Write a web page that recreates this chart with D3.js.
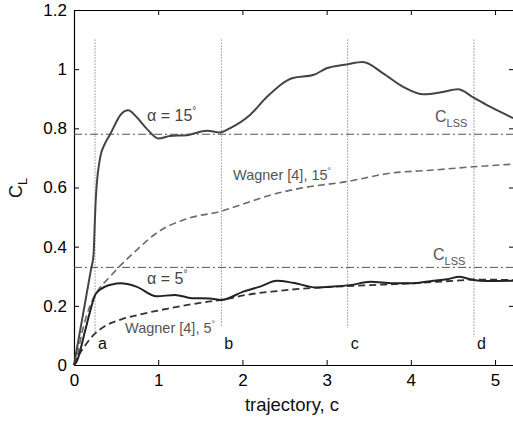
<!DOCTYPE html>
<html>
  <head>
    <meta charset="utf-8" />
    <title>Lift coefficient vs trajectory</title>
    <script src="https://d3js.org/d3.v7.min.js"></script>
    <style>
        body{
            margin: 0;
            background: #fff;
        }
        text{
            font-family: "Liberation Sans", Arial, sans-serif;
        }
    </style>
  </head>
  <body>
    <svg id="vis" width="513" height="423"></svg>

    <script>
        // alpha = 15 deg, computed
        var c15 = [0, 0.06, 0.13, 0.2, 0.232, 0.243, 0.255, 0.27, 0.31, 0.37, 0.43, 0.5, 0.55, 0.645, 0.74, 0.86, 1.0, 1.14, 1.34, 1.58, 1.73, 1.85, 2.09, 2.29, 2.6, 2.84, 3.0, 3.24, 3.43, 3.67, 3.91, 4.15, 4.38, 4.56, 4.74, 4.94, 5.22];
        var cl15 = [0, 0.096, 0.208, 0.32, 0.372, 0.45, 0.54, 0.61, 0.70, 0.75, 0.78, 0.82, 0.845, 0.861, 0.839, 0.80, 0.766, 0.774, 0.777, 0.792, 0.786, 0.80, 0.845, 0.906, 0.97, 0.98, 1.003, 1.016, 1.024, 0.986, 0.94, 0.915, 0.923, 0.932, 0.905, 0.873, 0.834];

        // Wagner [4], 15 deg
        var cw15 = [0, 0.02, 0.095, 0.19, 0.29, 0.41, 0.53, 0.73, 1.0, 1.34, 1.75, 2.09, 2.33, 2.68, 3.24, 3.75, 4.27, 4.74, 5.22];
        var clw15 = [0, 0.011, 0.11, 0.2, 0.255, 0.293, 0.33, 0.385, 0.45, 0.494, 0.52, 0.552, 0.574, 0.597, 0.62, 0.648, 0.659, 0.67, 0.679];

        // alpha = 5 deg, computed
        var c5 = [0, 0.03, 0.13, 0.19, 0.25, 0.31, 0.37, 0.45, 0.55, 0.74, 0.98, 1.2, 1.4, 1.61, 1.75, 2.01, 2.21, 2.41, 2.6, 2.88, 3.08, 3.28, 3.52, 3.79, 4.0, 4.27, 4.43, 4.58, 4.74, 4.9, 5.22];
        var cl5 = [0, 0.011, 0.113, 0.18, 0.236, 0.255, 0.265, 0.272, 0.276, 0.265, 0.232, 0.237, 0.226, 0.225, 0.22, 0.248, 0.265, 0.285, 0.278, 0.262, 0.265, 0.27, 0.281, 0.276, 0.276, 0.285, 0.29, 0.298, 0.287, 0.284, 0.285];

        // Wagner [4], 5 deg
        var cw5 = [0, 0.05, 0.13, 0.23, 0.37, 0.57, 0.77, 1.14, 1.54, 1.85, 2.01, 2.41, 2.8, 3.2, 3.52, 4.0, 4.58, 4.74, 5.22];
        var clw5 = [0, 0.03, 0.065, 0.101, 0.132, 0.155, 0.17, 0.192, 0.212, 0.225, 0.235, 0.25, 0.26, 0.266, 0.27, 0.276, 0.286, 0.289, 0.287];

        // steady state levels and marker positions
        var clss = [0.78, 0.33];
        var markX = [0.25, 1.75, 3.25, 4.75];
        var markLo = [0.108, 0.128, 0.125, 0.095];
        var markHi = 1.1;
        var markNames = ["a", "b", "c", "d"];

        var xTicks = [0, 1, 2, 3, 4, 5];
        var yTicks = [0, 0.2, 0.4, 0.6, 0.8, 1, 1.2];

        var svg = d3.select("#vis");

        var x = d3.scaleLinear().domain([0, 5.225]).range([74, 514]);
        var y = d3.scaleLinear().domain([0, 1.2]).range([365, 10]);

        function pairs(xs, ys) {
            return xs.map(function(d, i) { return [d, ys[i]]; });
        }

        var line = d3.line()
            .x(function(d) { return x(d[0]); })
            .y(function(d) { return y(d[1]); })
            .curve(d3.curveMonotoneX);

        // frame + ticks (matlab style, ticks inward on every side)
        var axB = d3.axisBottom(x).tickValues(xTicks).tickSizeInner(-5).tickSizeOuter(0).tickPadding(9).tickFormat(d3.format("d"));
        var axT = d3.axisTop(x).tickValues(xTicks).tickSizeInner(-5).tickSizeOuter(0).tickFormat("");
        var axL = d3.axisLeft(y).tickValues(yTicks).tickSizeInner(-5).tickSizeOuter(0).tickPadding(7).tickFormat(function(d) { return d; });
        var axR = d3.axisRight(y).tickValues(yTicks).tickSizeInner(-5).tickSizeOuter(0).tickFormat("");

        svg.append("g").attr("transform", "translate(0,365)").call(axB);
        svg.append("g").attr("transform", "translate(0,10)").call(axT);
        svg.append("g").attr("transform", "translate(74,0)").call(axL);
        svg.append("g").attr("transform", "translate(514,0)").call(axR);

        svg.selectAll(".domain").attr("stroke", "#000").attr("stroke-width", 1.2);
        svg.selectAll(".tick line").attr("stroke", "#000");
        svg.selectAll(".tick text").attr("font-size", 17).attr("fill", "#000")
            .attr("font-family", "'Liberation Sans', Arial, sans-serif");

        // steady-state dash-dot lines
        svg.selectAll(".lss").data(clss).enter().append("line")
            .attr("x1", x(0)).attr("x2", x(5.225))
            .attr("y1", function(d) { return y(d); })
            .attr("y2", function(d) { return y(d); })
            .attr("stroke", "#555").attr("stroke-width", 1)
            .attr("stroke-dasharray", "8,3,2,3");

        // dotted markers a-d
        svg.selectAll(".mark").data(markX).enter().append("line")
            .attr("x1", function(d) { return x(d); })
            .attr("x2", function(d) { return x(d); })
            .attr("y1", y(markHi))
            .attr("y2", function(d, i) { return y(markLo[i]); })
            .attr("stroke", "#555").attr("stroke-width", 1)
            .attr("stroke-dasharray", "1,2");

        svg.selectAll(".markname").data(markNames).enter().append("text")
            .attr("x", function(d, i) { return x(markX[i]) + 3; })
            .attr("y", 349)
            .attr("font-size", 16).attr("fill", "#111")
            .text(function(d) { return d; });

        // curves
        svg.append("path").attr("d", line(pairs(cw15, clw15)))
            .attr("fill", "none").attr("stroke", "#6a6a6a").attr("stroke-width", 1.6)
            .attr("stroke-dasharray", "7,4");
        svg.append("path").attr("d", line(pairs(cw5, clw5)))
            .attr("fill", "none").attr("stroke", "#333").attr("stroke-width", 1.8)
            .attr("stroke-dasharray", "7,4");
        svg.append("path").attr("d", line(pairs(c15, cl15)))
            .attr("fill", "none").attr("stroke", "#444").attr("stroke-width", 2);
        svg.append("path").attr("d", line(pairs(c5, cl5)))
            .attr("fill", "none").attr("stroke", "#222").attr("stroke-width", 2);

        // annotations
        function alphaLabel(px, py, deg) {
            var t = svg.append("text").attr("x", px).attr("y", py)
                .attr("font-size", 16).attr("fill", "#444");
            t.append("tspan").text("\u03b1 = " + deg);
            t.append("tspan").attr("font-size", 10).attr("dy", -7).text("\u00b0");
        }
        alphaLabel(147, 121, "15");
        alphaLabel(147, 284, "5");

        function wagnerLabel(px, py, deg) {
            var t = svg.append("text").attr("x", px).attr("y", py)
                .attr("font-size", 14.5).attr("fill", "#555");
            t.append("tspan").text("Wagner [4], " + deg);
            t.append("tspan").attr("font-size", 9).attr("dy", -6).text("\u00b0");
        }
        wagnerLabel(233, 180, "15");
        wagnerLabel(125, 333, "5");

        function lssLabel(px, py) {
            var t = svg.append("text").attr("x", px).attr("y", py)
                .attr("font-size", 16).attr("fill", "#555");
            t.append("tspan").text("C");
            t.append("tspan").attr("font-size", 11).attr("dy", 5).text("LSS");
        }
        lssLabel(435, 122);
        lssLabel(433, 260);

        // axis labels
        svg.append("text").attr("x", 292).attr("y", 411)
            .attr("text-anchor", "middle").attr("font-size", 18.5).attr("fill", "#111")
            .text("trajectory, c");

        var yl = svg.append("text").attr("transform", "translate(22,198) rotate(-90)")
            .attr("font-size", 18).attr("fill", "#111");
        yl.append("tspan").text("C");
        yl.append("tspan").attr("font-size", 13).attr("dy", 5).text("L");
    </script>
  </body>
</html>
